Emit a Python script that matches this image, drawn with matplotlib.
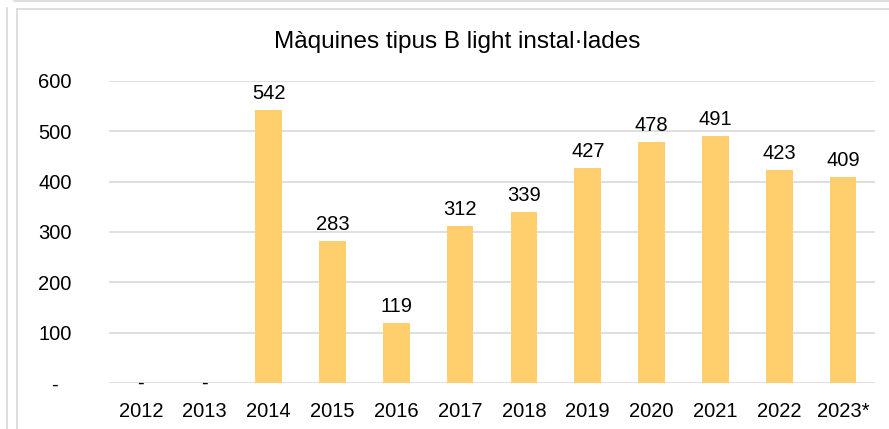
import matplotlib.pyplot as plt
from matplotlib.lines import Line2D

plt.rcParams['font.family'] = ['Liberation Sans', 'DejaVu Sans']

years = ['2012', '2013', '2014', '2015', '2016', '2017', '2018',
         '2019', '2020', '2021', '2022', '2023*']
machines = [0, 0, 542, 283, 119, 312, 339, 427, 478, 491, 423, 409]
yticks = [0, 100, 200, 300, 400, 500, 600]
ytick_labels = ['-', '100', '200', '300', '400', '500', '600']

fig = plt.figure(figsize=(8.89, 4.29), dpi=100)
W, H = 889, 429
ax = fig.add_axes([109 / W, 1 - 383 / H, (875 - 109) / W, (383 - 81) / H])

x = range(len(years))
ax.bar(x, machines, width=0.42, color='#FFCF6E', zorder=3)

fs = 14.5
for i, v in enumerate(machines):
    if v == 0:
        ax.text(i, 0, '-', ha='center', va='center', fontsize=fs, zorder=4)
    else:
        ax.annotate(str(v), (i, v), xytext=(0, 5), textcoords='offset points',
                    ha='center', va='bottom', fontsize=fs)

ax.set_xlim(-0.5, len(years) - 0.5)
ax.set_ylim(0, 600)
ax.set_yticks(yticks)
ax.set_yticklabels(ytick_labels, fontsize=fs)
for lab in ax.get_yticklabels():
    lab.set_horizontalalignment('center')
ax.tick_params(axis='y', length=0, pad=39)
ax.set_xticks(list(x))
ax.set_xticklabels(years, fontsize=fs)
ax.tick_params(axis='x', length=0, pad=14)
ax.grid(axis='y', color='#D9D9D9', linewidth=1.2, zorder=0)
for s in ax.spines.values():
    s.set_visible(False)

fig.text(457 / W, 1 - 42 / H, 'Màquines tipus B light instal·lades',
         ha='center', va='center', fontsize=17.5)

# outer frames
border = '#D9D9D9'
fig.add_artist(Line2D([14 / W, 1], [1 - 1 / H, 1 - 1 / H], color=border, lw=1.2))
fig.add_artist(Line2D([7 / W, 7 / W], [0, 1 - 8 / H], color=border, lw=1.2))
fig.add_artist(Line2D([17 / W, 1], [1 - 9 / H, 1 - 9 / H], color=border, lw=1.2))
fig.add_artist(Line2D([17 / W, 17 / W], [0, 1 - 9 / H], color=border, lw=1.2))

fig.savefig('out.png', dpi=100)
